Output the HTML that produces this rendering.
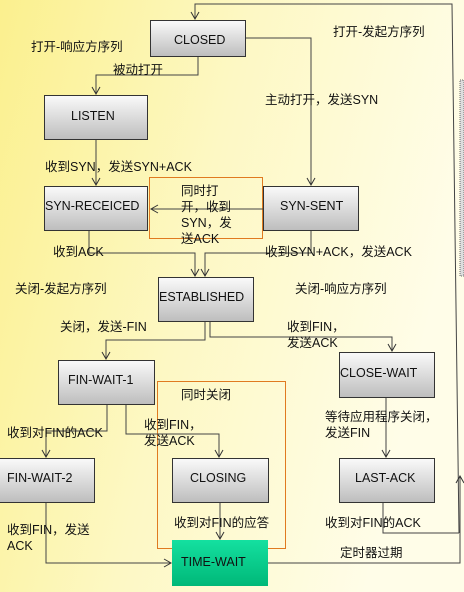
<!DOCTYPE html>
<html><head><meta charset="utf-8"><style>
html,body{margin:0;padding:0;width:464px;height:592px;overflow:hidden}
svg{display:block}
text{font-family:"Liberation Sans","Noto Sans CJK SC",sans-serif;font-size:12.5px;fill:#111}
.n{font-size:13px}
</style></head><body>
<svg width="464" height="592" viewBox="0 0 464 592">
<defs>
<linearGradient id="bg" x1="0" y1="0" x2="1" y2="0.3">
<stop offset="0" stop-color="#fbf08e"/><stop offset="0.5" stop-color="#fdf8c4"/><stop offset="1" stop-color="#fffde8"/>
</linearGradient>
<linearGradient id="box" x1="0" y1="0" x2="0" y2="1">
<stop offset="0" stop-color="#fafafa"/><stop offset="1" stop-color="#bdbdbd"/>
</linearGradient>
<linearGradient id="gr" x1="0" y1="0" x2="0" y2="1">
<stop offset="0" stop-color="#14e0a0"/><stop offset="1" stop-color="#00b878"/>
</linearGradient>
<marker id="a" markerWidth="10" markerHeight="10" refX="8" refY="5" orient="auto" markerUnits="userSpaceOnUse">
<path d="M1,1 L8,5 L1,9" fill="none" stroke="#333" stroke-width="1"/></marker>
</defs>
<rect width="464" height="592" fill="url(#bg)"/>
<rect x="460" y="80" width="4" height="196" fill="#ddd" stroke="#444" stroke-width="0.8" stroke-dasharray="1,1"/>
<rect x="149.5" y="177.5" width="113" height="61" fill="none" stroke="#e07a20"/>
<rect x="157.5" y="381.5" width="128" height="167" fill="none" stroke="#e07a20"/>
<g fill="none" stroke="#444" stroke-width="1">
<path d="M459,533 L452,4 L195,4 L195,19" marker-end="url(#a)"/>
<path d="M198,56 V75 H96 V94" marker-end="url(#a)"/>
<path d="M245,38 H311 V185" marker-end="url(#a)"/>
<path d="M96,139 V185" marker-end="url(#a)"/>
<path d="M263,209 H151" marker-end="url(#a)"/>
<path d="M89,230 V253 H195 V276" marker-end="url(#a)"/>
<path d="M311,230 V253 H205 V276" marker-end="url(#a)"/>
<path d="M205,321 V340 H106 V359" marker-end="url(#a)"/>
<path d="M210,321 V337 H392 V351" marker-end="url(#a)"/>
<path d="M386,397 V457" marker-end="url(#a)"/>
<path d="M107,404 V431 H46 V457" marker-end="url(#a)"/>
<path d="M126,404 V434 H219 V457" marker-end="url(#a)"/>
<path d="M220,502 V539" marker-end="url(#a)"/>
<path d="M46,502 V563 H171" marker-end="url(#a)"/>
<path d="M383,502 V533 H459"/>
<path d="M268,563 H460 V476" marker-end="url(#a)"/>
</g>
<g stroke="#333" stroke-width="1" fill="url(#box)">
<rect x="150.5" y="20.5" width="95" height="36"/>
<rect x="44.5" y="95.5" width="103" height="44"/>
<rect x="44.5" y="186.5" width="103" height="44"/>
<rect x="263.5" y="186.5" width="95" height="44"/>
<rect x="158.5" y="277.5" width="95" height="44"/>
<rect x="58.5" y="360.5" width="96" height="44"/>
<rect x="339.5" y="352.5" width="95" height="45"/>
<rect x="172.5" y="458.5" width="96" height="44"/>
<rect x="-1" y="458.5" width="95.5" height="44"/>
<rect x="339.5" y="458.5" width="95" height="44"/>
</g>
<rect x="172" y="540" width="96" height="46" fill="url(#gr)"/>
<g class="n">
<text x="174" y="44">CLOSED</text>
<text x="71" y="120">LISTEN</text>
<text x="45" y="210">SYN-RECEICED</text>
<text x="280" y="210">SYN-SENT</text>
<text x="159" y="301">ESTABLISHED</text>
<text x="68" y="384">FIN-WAIT-1</text>
<text x="340" y="377">CLOSE-WAIT</text>
<text x="190" y="482">CLOSING</text>
<text x="7" y="482">FIN-WAIT-2</text>
<text x="355" y="482">LAST-ACK</text>
<text x="181" y="566">TIME-WAIT</text>
</g>
<text x="31" y="51">打开-响应方序列</text>
<text x="333" y="36">打开-发起方序列</text>
<text x="113" y="74">被动打开</text>
<text x="265" y="104">主动打开，发送SYN</text>
<text x="45" y="171">收到SYN，发送SYN+ACK</text>
<text x="181" y="195">同时打</text>
<text x="181" y="211">开，收到</text>
<text x="181" y="227">SYN，发</text>
<text x="181" y="243">送ACK</text>
<text x="53" y="256">收到ACK</text>
<text x="265" y="256">收到SYN+ACK，发送ACK</text>
<text x="15" y="293">关闭-发起方序列</text>
<text x="295" y="293">关闭-响应方序列</text>
<text x="60" y="331">关闭，发送-FIN</text>
<text x="287" y="331">收到FIN，</text>
<text x="287" y="347">发送ACK</text>
<text x="181" y="399">同时关闭</text>
<text x="325" y="421">等待应用程序关闭，</text>
<text x="325" y="437">发送FIN</text>
<text x="7" y="437">收到对FIN的ACK</text>
<text x="144" y="429">收到FIN，</text>
<text x="144" y="445">发送ACK</text>
<text x="7" y="534">收到FIN，发送</text>
<text x="7" y="550">ACK</text>
<text x="174" y="527">收到对FIN的应答</text>
<text x="325" y="527">收到对FIN的ACK</text>
<text x="340" y="557">定时器过期</text>
</svg>
</body></html>
